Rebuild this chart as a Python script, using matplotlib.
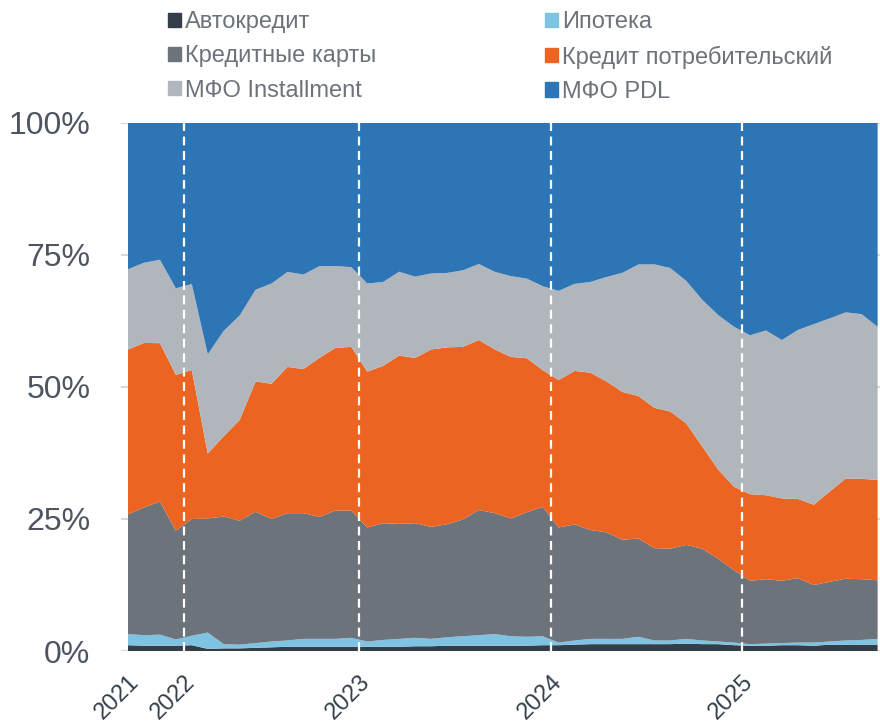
import matplotlib
matplotlib.use("Agg")
import matplotlib.pyplot as plt
from matplotlib.patches import Patch
import numpy as np

plt.rcParams['font.family'] = ['Liberation Sans', 'DejaVu Sans']

# monthly shares, %
auto = [1.1, 1.0, 1.0, 1.0, 1.1, 0.4, 0.5, 0.5, 0.6, 0.7, 0.8, 0.8, 0.8, 0.8, 0.8, 0.8,
        0.8, 0.8, 0.9, 0.9, 1.0, 1.0, 1.0, 1.0, 1.0, 1.0, 1.1, 1.1, 1.2, 1.3, 1.3, 1.3,
        1.3, 1.3, 1.3, 1.4, 1.3, 1.3, 1.1, 1.0, 1.0, 1.1, 1.1, 1.0, 1.2, 1.2, 1.2, 1.2]
mortgage = [2.1, 2.0, 2.1, 1.2, 1.8, 3.1, 0.8, 0.7, 0.9, 1.1, 1.2, 1.5, 1.5, 1.5, 1.7, 1.0,
            1.3, 1.5, 1.6, 1.4, 1.6, 1.8, 2.0, 2.2, 1.8, 1.7, 1.7, 0.5, 0.8, 1.0, 1.0, 1.0,
            1.4, 0.7, 0.7, 0.9, 0.7, 0.5, 0.5, 0.3, 0.4, 0.4, 0.5, 0.6, 0.6, 0.8, 0.9, 1.1]
cards = [22.7, 24.2, 25.2, 20.6, 22.1, 21.6, 24.2, 23.5, 24.9, 23.2, 24.1, 23.8, 23.1, 24.3, 24.1, 21.6,
         22.1, 21.8, 21.7, 21.2, 21.4, 22.1, 23.7, 22.9, 22.3, 23.6, 24.5, 21.8, 22.0, 20.6, 20.2, 18.8,
         18.6, 17.5, 17.4, 17.8, 17.4, 15.7, 13.7, 12.0, 12.2, 11.8, 12.2, 10.9, 11.3, 11.7, 11.5, 11.1]
consumer = [31.2, 31.2, 30.0, 29.5, 28.2, 12.3, 15.2, 19.1, 24.7, 25.6, 27.7, 27.3, 30.1, 30.8, 31.0, 29.5,
            29.8, 31.9, 31.3, 33.6, 33.5, 32.7, 32.2, 31.0, 30.6, 29.2, 25.9, 27.9, 29.1, 29.8, 28.6, 28.0,
            27.0, 26.6, 26.0, 23.0, 19.4, 16.9, 15.8, 16.4, 15.9, 15.6, 15.0, 15.2, 17.1, 19.0, 19.0, 19.0]
installment = [15.2, 15.2, 15.8, 16.4, 16.3, 18.8, 20.0, 19.8, 17.4, 19.0, 18.0, 17.9, 17.4, 15.5, 15.1, 16.7,
               15.9, 15.9, 15.4, 14.4, 14.1, 14.5, 14.4, 14.7, 15.3, 15.1, 15.9, 16.9, 16.5, 17.2, 19.8, 22.6,
               24.9, 27.2, 27.2, 27.0, 27.8, 29.3, 30.3, 30.1, 31.2, 30.0, 32.0, 34.2, 32.8, 31.5, 31.2, 29.0]
pdl = [27.7, 26.5, 25.9, 31.3, 30.5, 43.8, 39.4, 36.5, 31.6, 30.4, 28.2, 28.7, 27.1, 27.1, 27.3, 30.4,
       30.1, 28.2, 29.1, 28.5, 28.4, 27.9, 26.7, 28.2, 29.0, 29.5, 30.9, 31.8, 30.5, 30.1, 29.2, 28.4,
       26.8, 26.8, 27.5, 29.9, 33.5, 36.4, 38.6, 40.2, 39.3, 41.1, 39.2, 38.1, 37.0, 35.9, 36.2, 38.6]

labels = ['Автокредит', 'Ипотека', 'Кредитные карты', 'Кредит потребительский',
          'МФО Installment', 'МФО PDL']
colors = ['#343e48', '#7fc3e3', '#6d737b', '#ec6421', '#b0b6bc', '#2e75b5']

year_labels = ['2021', '2022', '2023', '2024', '2025']
year_pos = [0, 3.5, 14.5, 26.5, 38.5]

data = np.array([auto, mortgage, cards, consumer, installment, pdl])
data = data / data.sum(axis=0) * 100
x = np.arange(data.shape[1])

fig = plt.figure(figsize=(8.8, 7.26), dpi=100)
ax = fig.add_axes([0.1375, 0.1033, 0.8625, 0.7273])

ax.stackplot(x, data, colors=colors, linewidth=0, zorder=2)

for p in year_pos[1:]:
    ax.axvline(p, color='white', lw=1.6, ls=(0, (4, 2.5)), zorder=3)

ax.set_xlim(-0.44, 47.15)
ax.set_ylim(0, 100)
ax.set_yticks([0, 25, 50, 75, 100])
ax.set_yticklabels(['0%', '25%', '50%', '75%', '100%'])
ax.yaxis.grid(True, color='#d9d9d9', lw=1.5, zorder=0)
ax.set_axisbelow(True)
ax.tick_params(axis='y', length=0, pad=22, labelsize=23, labelcolor='#4d5560')

ax.set_xticks(year_pos)
ax.set_xticklabels(year_labels, rotation=45, ha='right', rotation_mode='anchor')
ax.tick_params(axis='x', length=0, pad=14, labelsize=17, labelcolor='#333f4b')
for s in ax.spines.values():
    s.set_visible(False)

order = [0, 2, 4, 1, 3, 5]
handles = [Patch(color=colors[i]) for i in order]
fig.legend(handles, [labels[i] for i in order], ncol=2, loc='upper left',
           bbox_to_anchor=(0.167, 1.014), frameon=False, fontsize=17,
           labelcolor='#6d737b', handlelength=0.55, handleheight=0.55,
           handletextpad=0.17, labelspacing=0.52, columnspacing=7.15)

fig.savefig('out.png', dpi=100)
